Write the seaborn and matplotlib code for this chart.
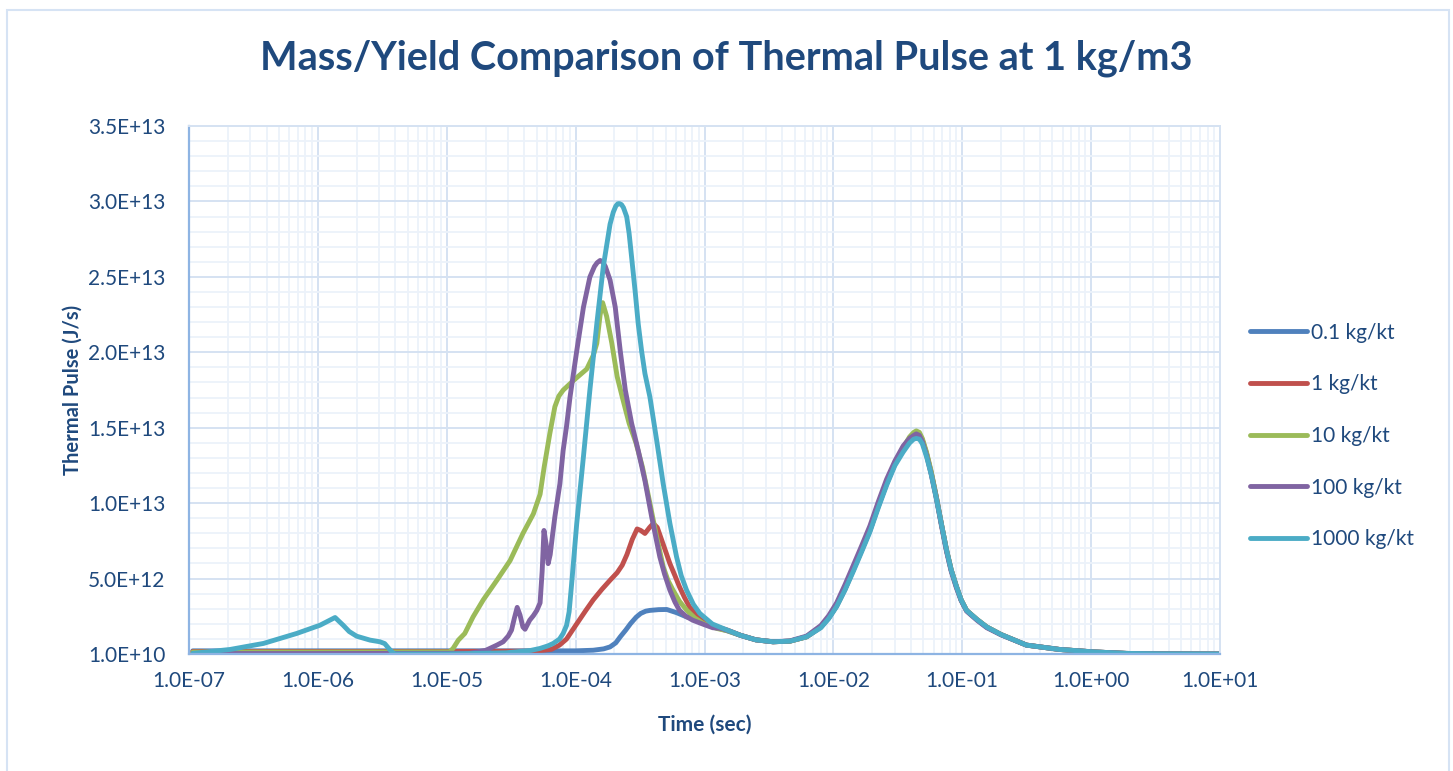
import numpy as np
import pandas as pd
import matplotlib
matplotlib.use("Agg")
import matplotlib.pyplot as plt
from matplotlib.ticker import FixedLocator, FuncFormatter, LogLocator, NullFormatter
from matplotlib.patches import Rectangle
from matplotlib.lines import Line2D
import seaborn as sns

# Thermal pulse (in units of 1e12 J/s) against time (s) for each mass/yield ratio
UNIT = 1e12

t_01 = [1.07e-7, 1e-6, 1e-5, 1e-4, 1.37e-4, 1.65e-4, 1.85e-4, 2.05e-4, 2.22e-4, 2.45e-4, 2.67e-4,
        2.95e-4, 3.2e-4, 3.5e-4, 3.77e-4, 4.4e-4, 5.1e-4, 6.07e-4, 7.26e-4, 8.7e-4, 1.0e-3, 1.24e-3, 1.5e-3]
p_01 = [0.22, 0.22, 0.22, 0.22, 0.26, 0.35, 0.48, 0.75, 1.15, 1.6, 2.03,
        2.45, 2.7, 2.85, 2.9, 2.95, 2.96, 2.75, 2.47, 2.3, 2.05, 1.75, 1.55]

t_1 = [1.07e-7, 1e-6, 1e-5, 5e-5, 6.5e-5, 7.5e-5, 8.5e-5, 1.0e-4, 1.2e-4, 1.37e-4, 1.6e-4, 1.85e-4,
       2.1e-4, 2.3e-4, 2.5e-4, 2.75e-4, 3.0e-4, 3.2e-4, 3.45e-4, 3.75e-4, 4.0e-4, 4.3e-4, 4.66e-4,
       5.0e-4, 5.39e-4, 5.9e-4, 6.4e-4, 7.0e-4, 7.66e-4, 8.6e-4, 9.8e-4, 1.2e-3, 1.5e-3]
p_1 = [0.18, 0.18, 0.18, 0.2, 0.32, 0.6, 1.0, 1.9, 2.9, 3.6, 4.3, 4.9,
       5.4, 5.9, 6.6, 7.6, 8.3, 8.2, 8.0, 8.4, 8.66, 8.4, 7.55,
       6.8, 6.0, 5.2, 4.46, 3.75, 3.13, 2.65, 2.25, 1.85, 1.6]

t_10 = [1.07e-7, 1e-6, 1.05e-5, 1.12e-5, 1.23e-5, 1.38e-5, 1.6e-5, 1.92e-5, 2.45e-5, 3.1e-5,
        3.9e-5, 4.7e-5, 5.3e-5, 5.7e-5, 6.3e-5, 6.9e-5, 7.4e-5, 8.0e-5, 9.8e-5, 1.22e-4, 1.37e-4, 1.46e-4,
        1.55e-4, 1.62e-4, 1.74e-4, 1.91e-4, 2.1e-4, 2.3e-4, 2.6e-4, 2.94e-4, 3.3e-4, 3.73e-4,
        4.2e-4, 4.78e-4, 5.2e-4, 5.7e-4, 6.4e-4, 7.3e-4, 8.4e-4, 9.8e-4, 1.25e-3, 1.5e-3]
p_10 = [0.14, 0.14, 0.15, 0.38, 0.93, 1.37, 2.47, 3.6, 4.9, 6.2,
        8.0, 9.3, 10.6, 12.4, 14.6, 16.4, 17.1, 17.5, 18.2, 18.9, 19.8, 20.6,
        22.5, 23.3, 22.4, 20.6, 18.4, 17.05, 15.3, 14.0, 12.4, 10.2,
        8.0, 5.8, 4.9, 4.24, 3.5, 2.9, 2.4, 2.03, 1.7, 1.55]

t_100 = [1.07e-7, 1e-6, 1.5e-5, 2.0e-5, 2.16e-5, 2.45e-5, 2.74e-5, 3.0e-5, 3.18e-5, 3.35e-5, 3.52e-5,
         3.7e-5, 3.9e-5, 4.05e-5, 4.4e-5, 4.7e-5, 5.0e-5, 5.3e-5, 5.5e-5, 5.68e-5, 5.9e-5, 6.12e-5,
         6.35e-5, 6.6e-5, 6.9e-5, 7.55e-5, 8.0e-5, 8.5e-5, 9.05e-5, 1.02e-4, 1.15e-4, 1.29e-4,
         1.4e-4, 1.47e-4, 1.55e-4, 1.62e-4, 1.7e-4, 1.85e-4, 2.03e-4, 2.22e-4, 2.43e-4, 2.72e-4, 3.06e-4, 3.45e-4,
         3.89e-4, 4.5e-4, 4.9e-4, 5.39e-4, 5.9e-4, 6.4e-4, 7.2e-4, 8.1e-4, 1.0e-3, 1.16e-3, 1.35e-3, 1.6e-3]
p_100 = [0.04, 0.04, 0.06, 0.25, 0.38, 0.6, 0.82, 1.2, 1.59, 2.4, 3.1,
         2.6, 1.8, 1.65, 2.25, 2.55, 2.9, 3.4, 5.5, 8.2, 7.3, 6.0,
         6.6, 7.8, 9.1, 11.3, 13.5, 15.1, 17.05, 20.1, 23.0, 25.0,
         25.7, 25.95, 26.1, 26.0, 25.7, 24.8, 23.0, 20.1, 17.5, 15.3, 13.5, 11.5,
         9.1, 6.45, 5.3, 4.24, 3.45, 2.9, 2.5, 2.25, 1.95, 1.75, 1.7, 1.5]

t_1000 = [1.07e-7, 2.08e-7, 3.78e-7, 6.84e-7, 1.04e-6, 1.36e-6, 1.45e-6, 1.57e-6, 1.75e-6, 2.0e-6,
          2.54e-6, 3.03e-6, 3.3e-6, 3.5e-6, 3.75e-6, 3.96e-6, 1e-5, 2.9e-5, 4.5e-5, 5.3e-5, 6.1e-5,
          6.7e-5, 7.5e-5, 8.0e-5, 8.5e-5, 8.9e-5, 9.3e-5, 1.02e-4, 1.15e-4, 1.29e-4, 1.46e-4, 1.64e-4,
          1.85e-4, 1.96e-4, 2.05e-4, 2.12e-4, 2.18e-4, 2.27e-4, 2.35e-4, 2.49e-4, 2.6e-4, 2.72e-4, 2.9e-4,
          3.06e-4, 3.25e-4, 3.45e-4, 3.77e-4, 4.25e-4,
          4.78e-4, 5.39e-4, 6.07e-4, 6.6e-4, 7.26e-4, 8.2e-4, 9.2e-4, 1.15e-3, 1.4e-3]
p_1000 = [0.05, 0.31, 0.71, 1.37, 1.92, 2.43, 2.2, 1.92, 1.5, 1.19,
          0.93, 0.82, 0.7, 0.44, 0.15, 0.01, 0.01, 0.09, 0.25, 0.38, 0.55,
          0.71, 1.0, 1.37, 1.9, 2.8, 4.6, 8.66, 13.1, 17.5, 21.9, 25.7,
          28.5, 29.3, 29.7, 29.85, 29.87, 29.8, 29.6, 29.0, 27.9, 26.3, 24.0,
          21.9, 20.1, 18.6, 17.05, 14.2,
          11.3, 8.66, 6.45, 5.2, 4.24, 3.3, 2.7, 2.0, 1.7]

# Shared late-time thermal pulse (fireball second maximum)
t_late = [1.9e-3, 2.5e-3, 3.4e-3, 4.6e-3, 6.2e-3, 8.0e-3, 9.2e-3, 1.06e-2, 1.23e-2, 1.43e-2, 1.66e-2,
          1.92e-2, 2.23e-2, 2.59e-2, 3.0e-2, 3.48e-2, 3.9e-2, 4.2e-2, 4.4e-2, 4.65e-2, 4.9e-2, 5.28e-2,
          5.75e-2, 6.3e-2, 6.9e-2, 7.55e-2, 8.2e-2, 9.0e-2, 9.8e-2, 1.08e-1, 1.3e-1,
          1.55e-1, 2.0e-1, 3.15e-1, 5.7e-1, 1.04, 1.88, 3.5, 10.0]
p_late_01 = [1.25, 0.95, 0.82, 0.86, 1.15, 1.8, 2.4, 3.2, 4.3, 5.6, 6.9,
             8.2, 9.8, 11.3, 12.6, 13.6, 14.25, 14.5, 14.6, 14.5, 14.15, 13.3,
             12.0, 10.4, 8.6, 6.9, 5.6, 4.5, 3.6, 2.9, 2.3,
             1.8, 1.3, 0.6, 0.31, 0.15, 0.05, 0.02, 0.01]
p_late_1 = [1.25, 0.95, 0.82, 0.86, 1.15, 1.8, 2.4, 3.2, 4.3, 5.6, 6.9,
            8.2, 9.8, 11.3, 12.6, 13.6, 14.3, 14.6, 14.7, 14.6, 14.2, 13.3,
            12.0, 10.4, 8.6, 6.9, 5.6, 4.5, 3.6, 2.9, 2.3,
            1.8, 1.3, 0.6, 0.31, 0.15, 0.05, 0.02, 0.01]
p_late_10 = [1.25, 0.95, 0.82, 0.86, 1.15, 1.85, 2.45, 3.25, 4.4, 5.7, 7.0,
             8.3, 9.9, 11.4, 12.7, 13.7, 14.4, 14.7, 14.8, 14.7, 14.3, 13.4,
             12.1, 10.4, 8.6, 6.9, 5.6, 4.5, 3.6, 2.9, 2.3,
             1.8, 1.3, 0.6, 0.31, 0.15, 0.05, 0.02, 0.01]
p_late_100 = [1.25, 0.95, 0.82, 0.88, 1.2, 1.9, 2.55, 3.4, 4.6, 5.9, 7.2,
              8.5, 10.1, 11.6, 12.8, 13.8, 14.3, 14.5, 14.6, 14.5, 14.1, 13.2,
              11.9, 10.3, 8.5, 6.8, 5.5, 4.4, 3.55, 2.85, 2.25,
              1.75, 1.28, 0.6, 0.31, 0.15, 0.05, 0.02, 0.01]
p_late_1000 = [1.25, 0.95, 0.82, 0.86, 1.15, 1.75, 2.35, 3.15, 4.25, 5.5, 6.8,
               8.1, 9.7, 11.2, 12.5, 13.4, 14.0, 14.25, 14.3, 14.25, 13.95, 13.1,
               11.9, 10.3, 8.6, 6.9, 5.6, 4.5, 3.6, 2.9, 2.3,
               1.8, 1.3, 0.6, 0.31, 0.15, 0.05, 0.02, 0.01]

labels = ["0.1 kg/kt", "1 kg/kt", "10 kg/kt", "100 kg/kt", "1000 kg/kt"]
colors = ["#4F81BD", "#C0504D", "#9BBB59", "#8064A2", "#4BACC6"]

series = [
    (t_01 + t_late, p_01 + p_late_01),
    (t_1 + t_late, p_1 + p_late_1),
    (t_10 + t_late, p_10 + p_late_10),
    (t_100 + t_late, p_100 + p_late_100),
    (t_1000 + t_late, p_1000 + p_late_1000),
]

frames = []
for name, (t, p) in zip(labels, series):
    frames.append(pd.DataFrame({"time": t, "pulse": np.array(p) * UNIT, "series": name}))
df = pd.concat(frames, ignore_index=True)

sns.set_theme(style="white")
plt.rcParams["font.family"] = ["Lato", "DejaVu Sans"]

W, H = 1453, 771
fig = plt.figure(figsize=(W / 100, H / 100), dpi=100)
ax = fig.add_axes([189 / W, 1 - 654 / H, (1220 - 189) / W, (654 - 126) / H])

text_color = "#1F497D"
major_grid = "#D5E2F2"
minor_grid = "#ECF2FA"

sns.lineplot(data=df, x="time", y="pulse", hue="series", hue_order=labels,
             palette=colors, sort=False, estimator=None, linewidth=3.5,
             legend=False, ax=ax)
for ln in ax.lines:
    ln.set_solid_capstyle("round")
    ln.set_solid_joinstyle("round")

ax.set_xscale("log")
ax.set_xlim(1e-7, 10)
y0 = 1e10
ax.set_ylim(y0, y0 + 3.5e13)

ax.xaxis.set_major_locator(LogLocator(base=10, numticks=20))
ax.xaxis.set_minor_locator(LogLocator(base=10, subs=np.arange(2, 10), numticks=100))
ax.xaxis.set_minor_formatter(NullFormatter())
ax.xaxis.set_major_formatter(FuncFormatter(lambda v, _: f"{v:.1E}"))

ax.yaxis.set_major_locator(FixedLocator([y0 + k * 5e12 for k in range(8)]))
ax.yaxis.set_minor_locator(FixedLocator([y0 + k * 1e12 for k in range(36)]))
ax.yaxis.set_major_formatter(FuncFormatter(lambda v, _: f"{v:.1E}"))

ax.grid(which="minor", color=minor_grid, linewidth=1.3, zorder=0)
ax.grid(which="major", color=major_grid, linewidth=1.4, zorder=0)
ax.set_axisbelow(True)

for side in ["top", "right"]:
    ax.spines[side].set_color(major_grid)
    ax.spines[side].set_linewidth(1.4)
for side in ["left", "bottom"]:
    ax.spines[side].set_color("#8EB4E3")
    ax.spines[side].set_linewidth(1.6)

ax.tick_params(axis="both", which="both", length=0)
ax.tick_params(axis="y", pad=17, labelsize=15, labelcolor=text_color)
ax.tick_params(axis="x", pad=12, labelsize=15, labelcolor=text_color)

ax.set_xlabel("Time (sec)", fontsize=15, fontweight="bold", color=text_color, labelpad=17)
ax.set_ylabel("Thermal Pulse (J/s)", fontsize=14.5, fontweight="bold", color=text_color, labelpad=4)

fig.text(0.5, 1 - 58 / H, "Mass/Yield Comparison of Thermal Pulse at 1 kg/m3",
         ha="center", va="center", fontsize=28.5, fontweight="bold", color=text_color)

handles = [Line2D([0], [0], color=c, lw=3.5, solid_capstyle="round") for c in colors]
fig.legend(handles, labels, loc="center left", bbox_to_anchor=(1250 / W, 1 - 436 / H),
           frameon=False, fontsize=15, handlelength=2.75, handletextpad=0.2,
           labelspacing=1.52, borderpad=0, borderaxespad=0, labelcolor=text_color)

fig.patches.append(Rectangle((7 / W, -10 / H), (1449 - 7) / W, (761 + 10) / H,
                             transform=fig.transFigure, fill=False,
                             edgecolor="#D6E3F4", linewidth=1.5))

fig.savefig("out.png", dpi=100, facecolor="white")
